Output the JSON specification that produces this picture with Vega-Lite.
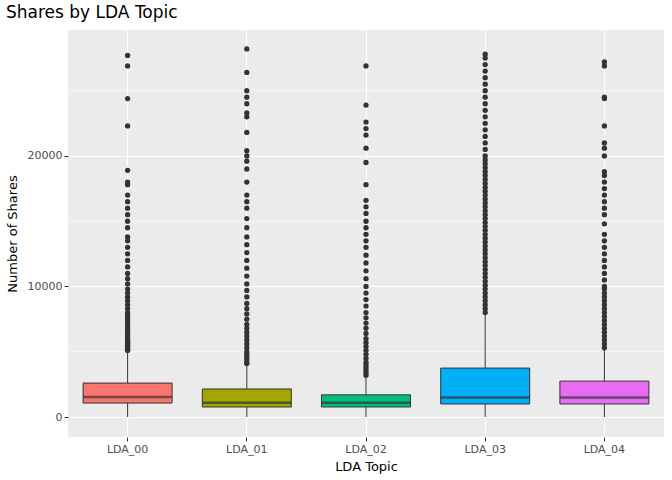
{
"$schema":"https://vega.github.io/schema/vega-lite/v6.json",
"width":596,"height":407,
"autosize":{"type":"none"},
"padding":{"left":68,"top":30,"right":8,"bottom":43},
"title":{"text":"Shares by LDA Topic","anchor":"start","fontSize":17,"fontWeight":"normal","font":"DejaVu Sans","color":"#000","offset":8},
"config":{"view":{"fill":"#EBEBEB","stroke":null},"axis":{"labelFont":"DejaVu Sans","titleFont":"DejaVu Sans","labelColor":"#4D4D4D","labelFontSize":11,"titleFontSize":13,"titleFontWeight":"normal","titleColor":"#000","gridColor":"#FFFFFF","gridWidth":1.2,"domain":false,"tickColor":"#333","tickSize":4}},
"datasets":{
"stats":[
{"t":"LDA_00","lo":0,"q1":1070,"med":1530,"q3":2600,"hi":5050},
{"t":"LDA_01","lo":0,"q1":770,"med":1100,"q3":2150,"hi":4050},
{"t":"LDA_02","lo":0,"q1":770,"med":1100,"q3":1700,"hi":3150},
{"t":"LDA_03","lo":0,"q1":1000,"med":1500,"q3":3750,"hi":7950},
{"t":"LDA_04","lo":0,"q1":1000,"med":1500,"q3":2750,"hi":5250}],
"minor":[{"v":5000},{"v":15000},{"v":25000}]
},
"layer":[
{"data":{"name":"minor"},"mark":{"type":"rule","color":"#FFFFFF","strokeWidth":0.6},"encoding":{"y":{"field":"v","type":"quantitative","scale":{"domain":[-1530,29650],"nice":false,"zero":false}}}},
{"data":{"name":"stats"},"mark":{"type":"rule","color":"#333"},"encoding":{
"x":{"field":"t","type":"nominal","title":"LDA Topic","axis":{"grid":true,"labelAngle":0,"titlePadding":6}},
"y":{"field":"lo","type":"quantitative","title":"Number of Shares","scale":{"domain":[-1530,29650],"nice":false,"zero":false},"axis":{"values":[0,10000,20000],"format":"d","titlePadding":8}},
"y2":{"field":"hi"}}},
{"data":{"name":"stats"},"mark":{"type":"bar","size":89,"stroke":"#333","strokeWidth":1},"encoding":{
"x":{"field":"t","type":"nominal"},
"y":{"field":"q1","type":"quantitative"},"y2":{"field":"q3"},
"color":{"field":"t","type":"nominal","legend":null,"scale":{"range":["#F8766D","#A3A500","#00BF7D","#00B0F6","#E76BF3"]}}}},
{"data":{"name":"stats"},"mark":{"type":"tick","size":89,"thickness":2.5,"color":"#333"},"encoding":{
"x":{"field":"t","type":"nominal"},"y":{"field":"med","type":"quantitative"}}},
{"data":{"values":[
{"t":"LDA_00","v":[5100,5200,5300,5400,5500,5600,5700,5800,5900,6000,6200,6400,6600,6800,7000,7200,7400,7600,7800,8000,8300,8600,8900,9200,9500,9800,10200,10600,11000,11500,12000,12500,13000,13500,13800,14500,15000,15500,16000,16500,17000,17800,18000,18900,22300,24400,26900,27700]},
{"t":"LDA_01","v":[4100,4200,4400,4600,4800,5000,5300,5600,5900,6200,6500,6800,7100,7500,7900,8300,8700,9200,9700,10200,10800,11400,12000,12600,13200,13800,14500,15200,16000,16500,17000,18000,19000,19600,20000,20400,21800,23000,23300,24000,24500,25000,26400,28200]},
{"t":"LDA_02","v":[3200,3400,3600,3800,4000,4200,4500,4800,5100,5400,5700,6000,6400,6800,7200,7600,8000,8500,9000,9500,10000,10600,11200,11800,12400,13000,13500,14000,14500,15000,15600,16100,16600,17800,19500,20600,21600,22100,22600,23900,26900]},
{"t":"LDA_03","v":[8000,8300,8600,8900,9200,9500,9800,10100,10400,10700,11000,11300,11600,11900,12200,12500,12800,13100,13400,13700,14000,14300,14600,14900,15200,15500,15800,16100,16400,16700,17000,17300,17600,17900,18200,18500,18800,19100,19400,19700,20000,20500,21000,21500,22000,22500,23000,23500,24000,24500,25000,25500,26000,26500,27000,27500,27800]},
{"t":"LDA_04","v":[5300,5600,5900,6200,6500,6800,7100,7400,7700,8000,8300,8600,8900,9200,9500,9800,10000,10500,11000,11500,12000,12500,13000,13500,14000,14800,15500,16000,16500,17000,17500,18000,18500,18800,20000,20600,21000,22300,24400,24500,26900,27200]}]},
"transform":[{"flatten":["v"]}],
"mark":{"type":"circle","size":28,"color":"#333","opacity":1},
"encoding":{"x":{"field":"t","type":"nominal"},"y":{"field":"v","type":"quantitative"}}}
]
}
